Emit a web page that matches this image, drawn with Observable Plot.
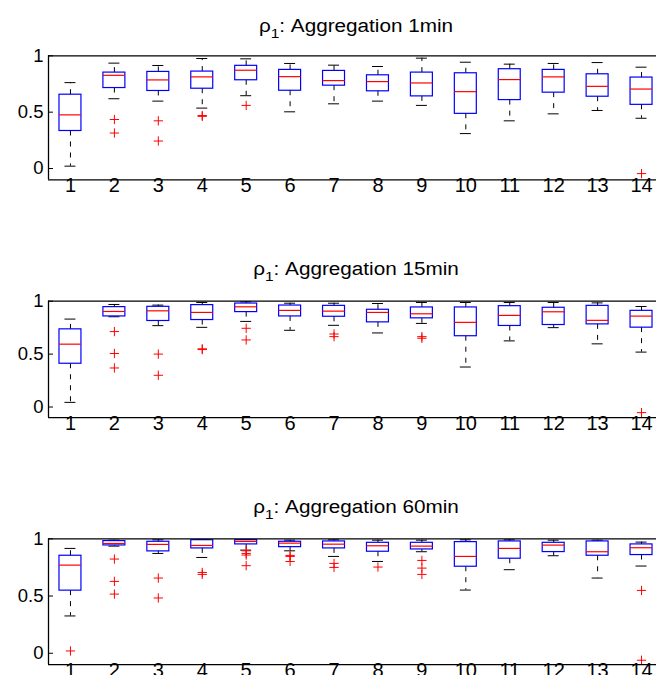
<!DOCTYPE html>
<html>
<head>
<meta charset="utf-8">
<script src="https://cdn.jsdelivr.net/npm/d3@7"></script>
<script src="https://cdn.jsdelivr.net/npm/@observablehq/plot@0.6"></script>
<style>
  html, body { margin: 0; padding: 0; background: #fff; }
  body { width: 656px; height: 675px; overflow: hidden; position: relative; }
  .panel { position: absolute; left: 0; }
  .title {
    position: absolute; left: 355.5px; white-space: nowrap;
    font-family: "Liberation Sans", Arial, Helvetica, sans-serif;
    font-size: 18px; line-height: 18px; color: #000;
    transform: translateX(-50%) scaleX(1.15);
  }
  .title sub { font-size: 0.75em; vertical-align: -0.45em; line-height: 0; }
</style>
</head>
<body>
<script>
// Station groups on the x axis
const groups = [1, 2, 3, 4, 5, 6, 7, 8, 9, 10, 11, 12, 13, 14];
const yTicks = [0, 0.5, 1];
const yLimits = [-0.1, 1];

// rho_1, aggregation 1 min
const hi1 = [0.762, 0.935, 0.914, 0.976, 0.973, 0.932, 0.917, 0.905, 0.979, 0.943, 0.926, 0.932, 0.940, 0.899];
const q3_1 = [0.655, 0.851, 0.857, 0.860, 0.911, 0.875, 0.866, 0.827, 0.851, 0.845, 0.881, 0.875, 0.836, 0.807];
const med1 = [0.476, 0.827, 0.786, 0.813, 0.872, 0.815, 0.780, 0.771, 0.759, 0.682, 0.789, 0.813, 0.729, 0.705];
const q1_1 = [0.333, 0.714, 0.688, 0.708, 0.783, 0.690, 0.735, 0.685, 0.640, 0.485, 0.607, 0.673, 0.637, 0.565];
const lo1 = [0.021, 0.619, 0.598, 0.536, 0.646, 0.503, 0.574, 0.598, 0.560, 0.310, 0.423, 0.485, 0.515, 0.446];
const out1 = [[2, 0.435], [2, 0.315], [3, 0.423], [3, 0.244], [4, 0.470], [4, 0.463], [5, 0.560], [14, -0.045]];

// rho_1, aggregation 15 min
const hi15 = [0.831, 0.969, 0.963, 0.988, 0.994, 0.981, 0.981, 0.978, 0.988, 0.988, 0.988, 0.988, 0.984, 0.950];
const q3_15 = [0.734, 0.944, 0.947, 0.963, 0.978, 0.959, 0.956, 0.919, 0.941, 0.941, 0.953, 0.938, 0.956, 0.909];
const med15 = [0.594, 0.903, 0.909, 0.894, 0.947, 0.913, 0.906, 0.894, 0.881, 0.800, 0.866, 0.900, 0.819, 0.859];
const q1_15 = [0.409, 0.856, 0.813, 0.822, 0.897, 0.856, 0.853, 0.800, 0.838, 0.669, 0.766, 0.775, 0.781, 0.750];
const lo15 = [0.044, 0.853, 0.769, 0.753, 0.809, 0.725, 0.772, 0.700, 0.790, 0.378, 0.625, 0.750, 0.597, 0.519];
const out15 = [[2, 0.713], [2, 0.506], [2, 0.369], [3, 0.500], [3, 0.300], [4, 0.550], [4, 0.543],
  [5, 0.744], [5, 0.634], [7, 0.690], [7, 0.665], [9, 0.665], [9, 0.650], [14, -0.053]];

// rho_1, aggregation 60 min
const hi60 = [0.916, 0.988, 0.991, 0.994, 0.994, 0.988, 0.991, 0.988, 0.988, 0.991, 0.991, 0.988, 0.988, 0.971];
const q3_60 = [0.852, 0.980, 0.974, 0.988, 0.988, 0.974, 0.977, 0.965, 0.965, 0.971, 0.977, 0.965, 0.977, 0.951];
const med60 = [0.770, 0.959, 0.951, 0.942, 0.977, 0.962, 0.953, 0.939, 0.936, 0.846, 0.916, 0.945, 0.887, 0.922];
const q1_60 = [0.547, 0.942, 0.890, 0.916, 0.951, 0.927, 0.916, 0.887, 0.907, 0.756, 0.826, 0.884, 0.852, 0.858];
const lo60 = [0.326, 0.936, 0.872, 0.837, 0.901, 0.895, 0.846, 0.802, 0.887, 0.552, 0.730, 0.852, 0.657, 0.762];
const out60 = [[1, 0.020], [2, 0.823], [2, 0.628], [2, 0.517], [3, 0.657], [3, 0.483], [4, 0.706], [4, 0.689],
  [5, 0.895], [5, 0.872], [5, 0.858], [5, 0.765], [6, 0.855], [6, 0.846], [6, 0.802], [7, 0.785], [7, 0.750],
  [8, 0.753], [9, 0.811], [9, 0.744], [9, 0.689], [14, 0.549], [14, -0.061]];

const labels = ["1min", "15min", "60min"];

// Layout of each subplot: svg top, svg height, axes top/bottom margins, title baseline
const layout = [
  {top: 0, height: 200, mt: 55.3, mb: 20.7, titleTop: 16.5},
  {top: 240, height: 200, mt: 60.7, mb: 22.9, titleTop: 259.8},
  {top: 480, height: 195, mt: 58.3, mb: 10.8, titleTop: 498}
];

const series = [
  [hi1, q3_1, med1, q1_1, lo1, out1],
  [hi15, q3_15, med15, q1_15, lo15, out15],
  [hi60, q3_60, med60, q1_60, lo60, out60]
];

const halfBox = 0.25;  // box half-width in x units
const halfCap = 0.125; // whisker cap half-width

series.forEach(([hi, q3, med, q1, lo, out], k) => {
  const L = layout[k];
  const stats = groups.map((g, i) => ({g, hi: hi[i], q3: q3[i], med: med[i], q1: q1[i], lo: lo[i]}));
  const outliers = out.map(([g, v]) => ({g, v}));

  const chart = Plot.plot({
    width: 656,
    height: L.height,
    marginTop: L.mt,
    marginBottom: L.mb,
    marginLeft: 48,
    marginRight: 0,
    style: {fontFamily: "'Liberation Sans', Arial, Helvetica, sans-serif", color: "#000", background: "#fff"},
    x: {domain: [0.5, 14.5], range: [48, 663], label: null},
    y: {domain: yLimits, label: null},
    marks: [
      // whiskers
      Plot.ruleX(stats, {x: "g", y1: "q3", y2: "hi", stroke: "#000", strokeWidth: 1, strokeDasharray: "5,6"}),
      Plot.ruleX(stats, {x: "g", y1: "q1", y2: "lo", stroke: "#000", strokeWidth: 1, strokeDasharray: "5,6"}),
      // whisker caps
      Plot.ruleY(stats, {y: "hi", x1: (d) => d.g - halfCap, x2: (d) => d.g + halfCap, stroke: "#000", strokeWidth: 1}),
      Plot.ruleY(stats, {y: "lo", x1: (d) => d.g - halfCap, x2: (d) => d.g + halfCap, stroke: "#000", strokeWidth: 1}),
      // boxes
      Plot.rect(stats, {x1: (d) => d.g - halfBox, x2: (d) => d.g + halfBox, y1: "q1", y2: "q3",
        fill: "none", stroke: "#0000ff", strokeWidth: 1.2}),
      // medians
      Plot.ruleY(stats, {y: "med", x1: (d) => d.g - halfBox, x2: (d) => d.g + halfBox, stroke: "#ff0000", strokeWidth: 1.2}),
      // outliers
      Plot.dot(outliers, {x: "g", y: "v", symbol: "plus", stroke: "#ff0000", strokeWidth: 1, r: 3.1}),
      // axes box
      Plot.ruleY(yLimits, {stroke: "#000", strokeWidth: 1.3}),
      Plot.ruleX([0.5], {stroke: "#000", strokeWidth: 1.3}),
      Plot.axisY({ticks: yTicks, tickSize: -5, tickPadding: 10, tickFormat: (d) => String(d), fontSize: 18.5, stroke: "#000"}),
      Plot.axisX({ticks: groups, tickSize: 0, tickPadding: -2, tickFormat: (d) => String(d), fontSize: 20})
    ]
  });

  const wrap = document.createElement("div");
  wrap.className = "panel";
  wrap.style.top = L.top + "px";
  wrap.appendChild(chart);
  document.body.appendChild(wrap);

  const title = document.createElement("div");
  title.className = "title";
  title.style.top = L.titleTop + "px";
  title.innerHTML = "ρ<sub>1</sub>: Aggregation " + labels[k];
  document.body.appendChild(title);
});
</script>
</body>
</html>
